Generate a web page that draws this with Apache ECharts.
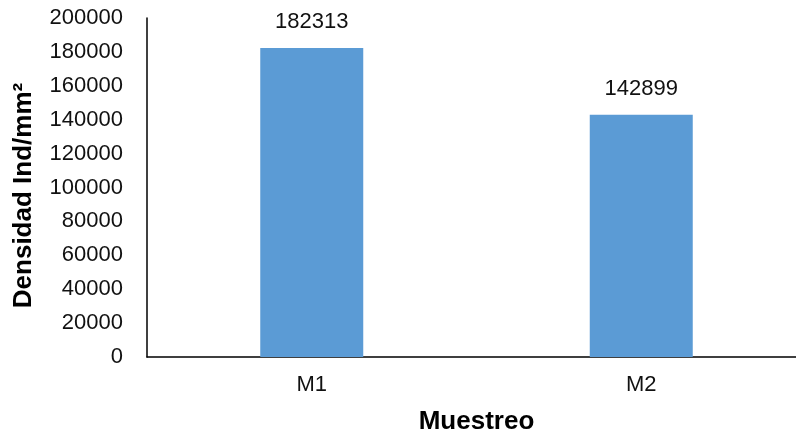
<!DOCTYPE html>
<html><head><meta charset="utf-8">
<script src="https://cdn.jsdelivr.net/npm/echarts@6/dist/echarts.min.js"></script>
<style>html,body{margin:0;padding:0;background:#fff}#c{width:796px;height:437px}</style>
</head><body><div id="c"></div>
<script>
const categories = ['M1', 'M2'];
const values = [182313, 142899];
const yTicks = [0, 200000, 20000]; // min, max, interval

const FONT = 'Liberation Sans, Arial, sans-serif';
const chart = echarts.init(document.getElementById('c'));
chart.setOption({
  animation: false,
  grid: { left: 147, right: -10, top: 18, bottom: 80, containLabel: false, outerBoundsMode: 'none' },
  xAxis: {
    type: 'category', data: categories,
    axisLine: { lineStyle: { color: '#000', width: 1.5 } },
    axisTick: { show: false },
    axisLabel: { color: '#111', fontSize: 22, fontFamily: FONT, margin: 17 },
    name: 'Muestreo', nameLocation: 'middle', nameGap: 52,
    nameTextStyle: { color: '#000', fontSize: 26, fontWeight: 'bold', fontFamily: FONT }
  },
  yAxis: {
    type: 'value', min: yTicks[0], max: yTicks[1], interval: yTicks[2],
    axisLine: { show: true, lineStyle: { color: '#000', width: 1.5 } },
    axisTick: { show: false },
    splitLine: { show: false },
    axisLabel: { color: '#111', fontSize: 22, fontFamily: FONT, margin: 24, formatter: v => String(v) },
    name: 'Densidad Ind/mm²', nameLocation: 'middle', nameGap: 110, nameRotate: 90,
    nameTextStyle: { color: '#000', fontSize: 26, fontWeight: 'bold', fontFamily: FONT, padding: [0, 16, 0, 0] }
  },
  series: [{
    type: 'bar', data: values, barWidth: 103,
    itemStyle: { color: '#5b9bd5' },
    label: { show: true, position: 'top', distance: 15, color: '#111', fontSize: 22, fontFamily: FONT }
  }]
});
</script></body></html>
